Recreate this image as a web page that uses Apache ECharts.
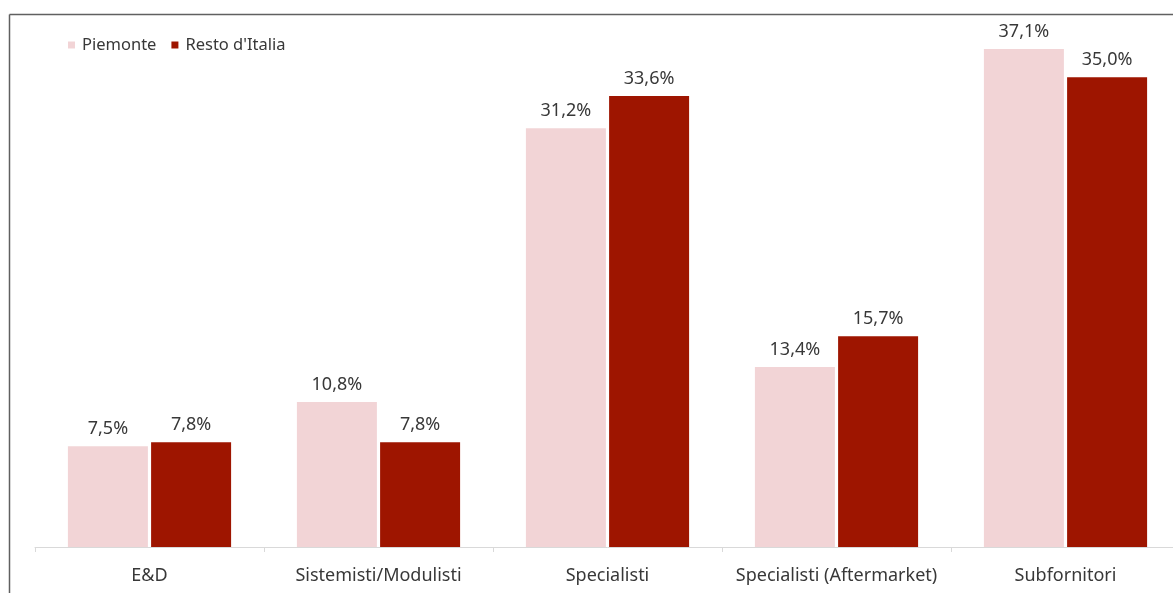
<!DOCTYPE html>
<html><head><meta charset="utf-8">
<script src="https://cdn.jsdelivr.net/npm/echarts@6/dist/echarts.min.js"></script>
<style>html,body{margin:0;padding:0;background:#fff;overflow:hidden;width:1173px;height:593px}#c{width:1180px;height:593px}</style>
</head><body><div id="c"></div>
<script>
const categories = ['E&D', 'Sistemisti/Modulisti', 'Specialisti', 'Specialisti (Aftermarket)', 'Subfornitori'];
const piemonte = [7.5, 10.8, 31.2, 13.4, 37.1];
const restoItalia = [7.8, 7.8, 33.6, 15.7, 35.0];
const seriesNames = ['Piemonte', "Resto d'Italia"];

const chart = echarts.init(document.getElementById('c'));
const fmt = p => p.value.toFixed(1).replace('.', ',') + '%';
const font = 'Noto Sans';
const txt = '#383838';
chart.setOption({
  animation: false,
  textStyle: { fontFamily: font },
  legend: {
    left: 68, top: 35, padding: 0, itemWidth: 7, itemHeight: 7, itemGap: 15,
    icon: 'rect',
    textStyle: { fontSize: 16.5, color: txt, fontFamily: font, lineHeight: 20, padding: [0, 0, 0, 2] },
    data: seriesNames
  },
  grid: { left: 35, right: 0, top: 10, bottom: 46, containLabel: false },
  xAxis: {
    type: 'category', data: categories,
    axisLine: { lineStyle: { color: '#d9d9d9', width: 1 } },
    axisTick: { show: true, interval: 0, length: 5, lineStyle: { color: '#d9d9d9' } },
    axisLabel: { interval: 0, fontSize: 18, color: txt, margin: 20, fontFamily: font }
  },
  yAxis: { type: 'value', min: 0, max: 40, show: false, splitLine: { show: false } },
  series: [
    { name: seriesNames[0], type: 'bar', data: piemonte, barWidth: 80, barGap: '4%',
      itemStyle: { color: '#f2d4d6' },
      label: { show: true, position: 'top', distance: 8, formatter: fmt, fontSize: 18, color: txt, fontFamily: font } },
    { name: seriesNames[1], type: 'bar', data: restoItalia, barWidth: 80,
      itemStyle: { color: '#9e1500' },
      label: { show: true, position: 'top', distance: 8, formatter: fmt, fontSize: 18, color: txt, fontFamily: font } }
  ],
  graphic: [
    { type: 'line', shape: { x1: 9.5, y1: 14.5, x2: 1180, y2: 14.5 }, style: { stroke: '#606060', lineWidth: 1.5 }, silent: true },
    { type: 'line', shape: { x1: 9.5, y1: 14.5, x2: 9.5, y2: 593 }, style: { stroke: '#606060', lineWidth: 1.5 }, silent: true }
  ]
});
</script></body></html>
